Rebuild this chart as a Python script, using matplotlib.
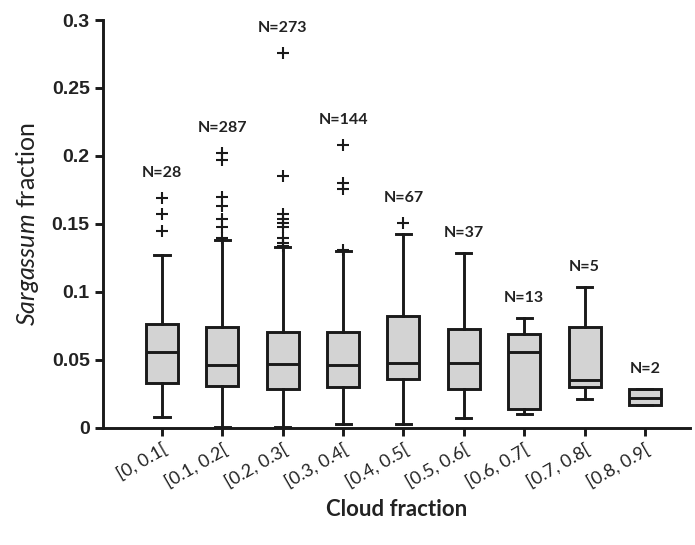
import matplotlib
matplotlib.use("Agg")
import matplotlib.pyplot as plt

plt.rcParams["mathtext.fontset"] = "custom"
plt.rcParams["mathtext.it"] = "Lato:italic"
plt.rcParams["mathtext.rm"] = "Lato"

categories = ["[0, 0.1[", "[0.1, 0.2[", "[0.2, 0.3[", "[0.3, 0.4[", "[0.4, 0.5[",
              "[0.5, 0.6[", "[0.6, 0.7[", "[0.7, 0.8[", "[0.8, 0.9["]
counts = [28, 287, 273, 144, 67, 37, 13, 5, 2]
whislo = [0.008, 0.001, 0.001, 0.003, 0.003, 0.007, 0.010, 0.021, 0.017]
q1 = [0.033, 0.031, 0.029, 0.030, 0.036, 0.029, 0.014, 0.030, 0.017]
med = [0.056, 0.046, 0.047, 0.046, 0.048, 0.048, 0.056, 0.035, 0.022]
q3 = [0.0765, 0.074, 0.0706, 0.0706, 0.082, 0.073, 0.069, 0.074, 0.0287]
whishi = [0.127, 0.138, 0.133, 0.130, 0.143, 0.129, 0.081, 0.104, 0.0287]
fliers = [
    [0.169, 0.157, 0.145],
    [0.202, 0.197, 0.170, 0.163, 0.154, 0.148, 0.140],
    [0.276, 0.185, 0.157, 0.154, 0.151, 0.148, 0.140, 0.136, 0.134],
    [0.208, 0.180, 0.176, 0.131],
    [0.151],
    [], [], [], [],
]

stats = []
for i in range(len(categories)):
    stats.append({"whislo": whislo[i], "q1": q1[i], "med": med[i], "q3": q3[i],
                  "whishi": whishi[i], "fliers": fliers[i]})

fig = plt.figure(figsize=(6.95, 5.45), dpi=100)
ax = fig.add_axes([0.148, 0.2147, 0.845, 0.7486])

lw = 2.1
dark = "#1a1a1a"
ax.bxp(stats, positions=range(1, 10), widths=0.53, patch_artist=True,
       capwidths=0.25, showfliers=True,
       boxprops=dict(facecolor="#d3d3d3", edgecolor=dark, linewidth=lw),
       medianprops=dict(color=dark, linewidth=lw),
       whiskerprops=dict(color=dark, linewidth=lw),
       capprops=dict(color=dark, linewidth=lw),
       flierprops=dict(marker="+", markersize=9, markeredgewidth=1.5,
                       markeredgecolor=dark))

for i, n in enumerate(counts):
    top = max([whishi[i]] + fliers[i])
    off = 13 if fliers[i] else 9
    ax.annotate(f"N={n}", (i + 1, top), xytext=(0, off), textcoords="offset points",
                ha="center", va="bottom", fontsize=11.5, fontweight="bold",
                family="Lato", color="#222222")

ax.set_xlim(0.02, 9.75)
ax.set_ylim(0, 0.3)
ax.set_yticks([0, 0.05, 0.1, 0.15, 0.2, 0.25, 0.3])
ax.set_yticklabels(["0", "0.05", "0.1", "0.15", "0.2", "0.25", "0.3"],
                   fontsize=14, fontweight="bold", family="Liberation Sans",
                   color="#222222")
ax.set_xticks(range(1, 10))
ax.set_xticklabels(categories, rotation=30, ha="right", rotation_mode="anchor",
                   fontsize=13, family="Lato", color="#222222")
for sp in ["top", "right"]:
    ax.spines[sp].set_visible(False)
for sp in ["left", "bottom"]:
    ax.spines[sp].set_linewidth(lw)
    ax.spines[sp].set_color(dark)
ax.tick_params(width=lw, length=6, color=dark)

ax.set_ylabel(r"$\it{Sargassum}$ fraction", fontsize=18, family="Lato",
              color="#222222", labelpad=8)
ax.set_xlabel("Cloud fraction", fontsize=16, fontweight="bold", family="Lato",
              color="#222222", labelpad=6)

fig.savefig("out.png", dpi=100)
